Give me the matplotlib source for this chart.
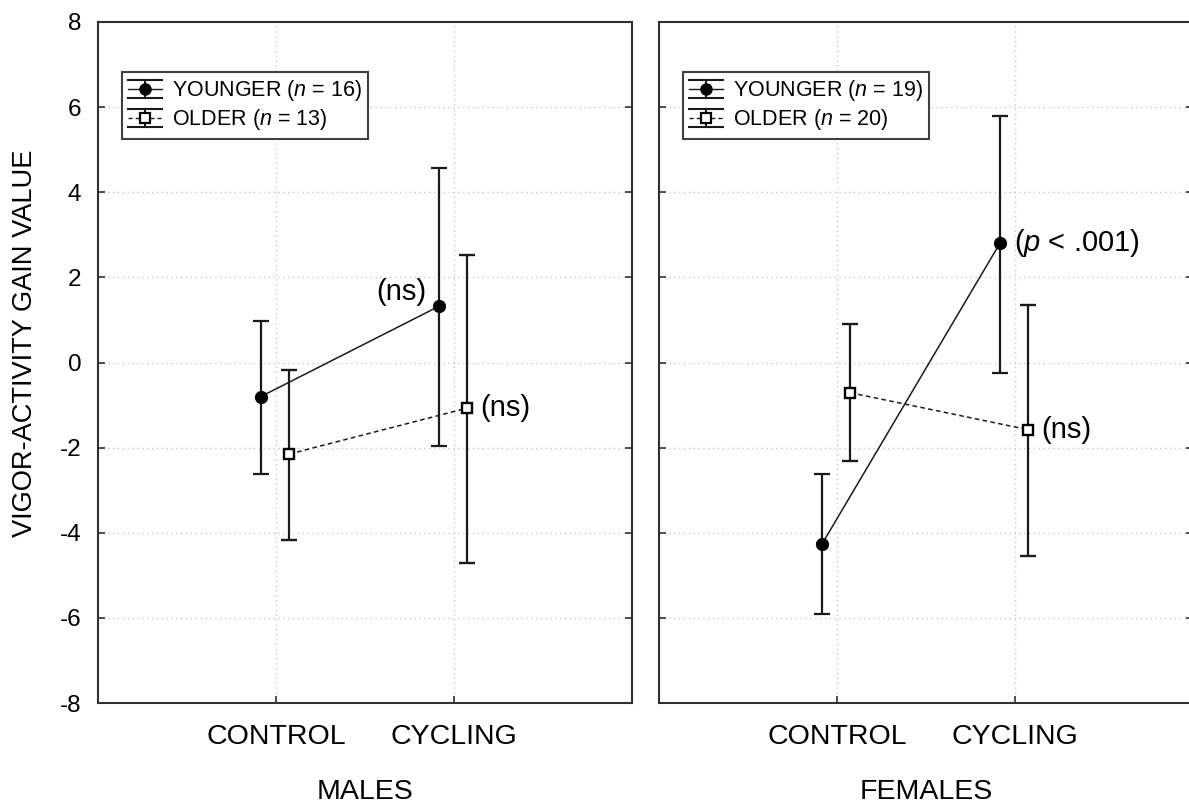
import matplotlib
matplotlib.use("Agg")
import matplotlib.pyplot as plt
from matplotlib.legend_handler import HandlerBase
from matplotlib.lines import Line2D
import numpy as np

plt.rcParams['font.family'] = ['Liberation Sans', 'DejaVu Sans']
plt.rcParams['mathtext.fontset'] = 'custom'
plt.rcParams['mathtext.rm'] = 'Liberation Sans'
plt.rcParams['mathtext.it'] = 'Liberation Sans:italic'

# ---- data ----
conditions = ["CONTROL", "CYCLING"]
panels = ["MALES", "FEMALES"]
yticks = [-8, -6, -4, -2, 0, 2, 4, 6, 8]

male_young_mean = [-0.80, 1.32]
male_young_upper = [0.97, 4.57]
male_young_lower = [-2.62, -1.97]
male_old_mean = [-2.15, -1.07]
male_old_upper = [-0.18, 2.53]
male_old_lower = [-4.16, -4.72]

female_young_mean = [-4.27, 2.80]
female_young_upper = [-2.63, 5.78]
female_young_lower = [-5.91, -0.24]
female_old_mean = [-0.71, -1.58]
female_old_upper = [0.91, 1.34]
female_old_lower = [-2.32, -4.54]

male_n = [16, 13]
female_n = [19, 20]
male_notes = ["(ns)", "(ns)"]
female_notes = [r"($\mathit{p}$ < .001)", "(ns)"]

W, H = 1189, 807
fig = plt.figure(figsize=(W / 100, H / 100), dpi=100)

ax_l = fig.add_axes([98 / W, 104 / H, 534 / W, 681 / H])
ax_r = fig.add_axes([659 / W, 104 / H, 534 / W, 681 / H])

line_col = '#1a1a1a'
spine_col = '#303030'
DASH = (0, (3, 2.2))


class EBHandler(HandlerBase):
    def __init__(self, ls, marker, mfc, ms, mew):
        super().__init__()
        self.ls, self.marker, self.mfc, self.ms, self.mew = ls, marker, mfc, ms, mew

    def create_artists(self, legend, orig_handle, xdescent, ydescent, width,
                       height, fontsize, trans):
        cy = height / 2 - ydescent
        x0 = -xdescent
        x1 = x0 + width
        xm = (x0 + x1) / 2
        hh = 0.42 * fontsize
        arts = [
            Line2D([x0, x1], [cy + hh, cy + hh], color=line_col, lw=1.5),
            Line2D([x0, x1], [cy - hh, cy - hh], color=line_col, lw=1.5),
            Line2D([xm, xm], [cy - hh, cy + hh], color=line_col, lw=1.5),
            Line2D([x0, x1], [cy, cy], color=line_col, lw=1.0, ls=self.ls),
            Line2D([xm], [cy], marker=self.marker, ms=self.ms, mfc=self.mfc,
                   mec='black', mew=self.mew, ls='none'),
        ]
        for a in arts:
            a.set_transform(trans)
        return arts


def draw_panel(ax, ym, yu, yl, om, ou, ol, ns, notes, label, show_ylabels):
    xc = np.array([1, 2])
    xy = xc - 0.085
    xo = xc + 0.075
    ym, yu, yl = map(np.array, (ym, yu, yl))
    om, ou, ol = map(np.array, (om, ou, ol))
    ax.errorbar(xy, ym, yerr=[ym - yl, yu - ym], fmt='o', ls='-',
                color=line_col, lw=1.1, elinewidth=1.6, capsize=6,
                capthick=1.6, ms=8.5, mfc='black', mec='black', zorder=4)
    ax.errorbar(xo, om, yerr=[om - ol, ou - om], fmt='s',
                ls=DASH, color=line_col, lw=1.1,
                elinewidth=1.6, capsize=6, capthick=1.6, ms=7.5,
                mfc='white', mec='black', mew=1.7, zorder=4)
    ax.set_xlim(0, 3)
    ax.set_ylim(-8, 8)
    ax.set_xticks(xc)
    ax.set_xticklabels(conditions, fontsize=20.5)
    ax.set_yticks(yticks)
    if show_ylabels:
        ax.set_yticklabels([str(t) for t in yticks], fontsize=17.5)
    else:
        ax.set_yticklabels([])
    ax.tick_params(axis='both', direction='in', length=5, width=1.2,
                   color=spine_col, left=True, right=True, top=False,
                   bottom=True)
    ax.tick_params(axis='y', pad=12)
    ax.tick_params(axis='x', pad=15)
    ax.grid(True, color='#c8c8c8', linestyle=(0, (1, 2.5)), lw=1.0)
    ax.set_axisbelow(True)
    for s in ax.spines.values():
        s.set_color(spine_col)
        s.set_linewidth(1.5)
    ax.set_xlabel(label, fontsize=20.5, labelpad=21)
    p1 = Line2D([], [])
    p2 = Line2D([], [])
    leg = ax.legend([p1, p2],
                    [r"YOUNGER ($\mathit{n}$ = %d)" % ns[0],
                     r"OLDER ($\mathit{n}$ = %d)" % ns[1]],
                    handler_map={p1: EBHandler('-', 'o', 'black', 8, 1.0),
                                 p2: EBHandler(DASH, 's', 'white', 7, 1.6)},
                    loc='upper left', bbox_to_anchor=(0.045, 0.927),
                    borderaxespad=0, fontsize=15.5, frameon=True, fancybox=False,
                    framealpha=1, edgecolor='#404040', handlelength=1.55,
                    handleheight=0.9, handletextpad=0.45, labelspacing=0.2,
                    borderpad=0.3)
    leg.get_frame().set_linewidth(1.5)
    # annotations
    males = (label == "MALES")
    ax.annotate(notes[0], xy=(xy[1], ym[1]),
                xytext=(-9, 10) if males else (10, 0),
                textcoords='offset points',
                ha='right' if males else 'left', va='center',
                fontsize=21)
    ax.annotate(notes[1], xy=(xo[1], om[1]), xytext=(9, 0),
                textcoords='offset points', ha='left', va='center',
                fontsize=21)


draw_panel(ax_l, male_young_mean, male_young_upper, male_young_lower,
           male_old_mean, male_old_upper, male_old_lower, male_n, male_notes,
           panels[0], True)
draw_panel(ax_r, female_young_mean, female_young_upper, female_young_lower,
           female_old_mean, female_old_upper, female_old_lower, female_n,
           female_notes, panels[1], False)

fig.text(25 / W, 1 - 343 / H, "VIGOR-ACTIVITY GAIN VALUE", rotation=90,
         ha='center', va='center', fontsize=19.6)

fig.savefig("out.png", dpi=100)
